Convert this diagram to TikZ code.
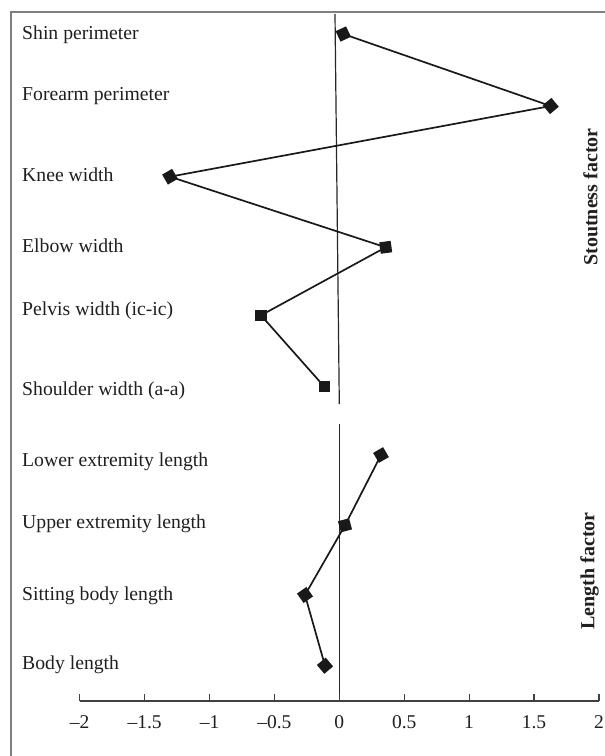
\documentclass[tikz,border=0pt]{standalone}
\usepackage{fontspec}
\setmainfont{Liberation Serif}
\begin{document}
\begin{tikzpicture}[x=1pt,y=-1pt,
  lbl/.style={anchor=base west,inner sep=0pt,font=\fontsize{19.7}{22}\selectfont,text=black!88},
  ticklbl/.style={anchor=base,inner sep=0pt,font=\fontsize{19.5}{22}\selectfont,text=black!88},
  factor/.style={rotate=90,inner sep=0pt,font=\fontsize{20}{22}\selectfont\bfseries,text=black!88},
  marker/.style={fill=black!90,draw=none,minimum size=11.5pt,inner sep=0pt,rectangle},
  conn/.style={line width=1.7pt,draw=black!90},
  zero/.style={line width=1.2pt,draw=black!85},
  frameline/.style={line width=1.4pt,draw=black!50}]
\useasboundingbox (0,0) rectangle (605,756);
% frame
\coordinate (fl) at (11,756);
\coordinate (ft) at (11,12);
\coordinate (fr) at (605,12);
\draw[frameline] (fl) -- (ft) -- (fr);
% zero lines
\coordinate (z1) at (335,14);
\coordinate (z2) at (339.3,404);
\coordinate (z3) at (339.3,424);
\coordinate (z4) at (339.3,701);
\draw[zero] (z1) -- (z2);
\draw[zero] (z3) -- (z4);
% axis
\coordinate (a0) at (80,701);
\coordinate (a1) at (599,701);
\draw[line width=1.3pt,draw=black!75] (a0) -- (a1);
\foreach \v/\t [count=\i] in {-2/–2,-1.5/–1.5,-1/–1,-0.5/–0.5,0/0,0.5/0.5,1/1,1.5/1.5,2/2}{
  \coordinate (tk\i) at ({339.3+129.8*\v},701);
  \draw[line width=1.2pt,draw=black!75] (tk\i) -- ++(0,-7);
  \node[ticklbl] (tl\i) at ({339.3+129.8*\v},728.3) {\t};
}
% labels
\node[lbl] (l1) at (22,39.3) {Shin perimeter};
\node[lbl] (l2) at (22,100.7) {Forearm perimeter};
\node[lbl] (l3) at (22,181.7) {Knee width};
\node[lbl] (l4) at (22,252.7) {Elbow width};
\node[lbl] (l5) at (22,315) {Pelvis width (ic-ic)};
\node[lbl] (l6) at (22,395) {Shoulder width (a-a)};
\node[lbl] (l7) at (22,466.7) {Lower extremity length};
\node[lbl] (l8) at (22,528.3) {Upper extremity length};
\node[lbl] (l9) at (22,600) {Sitting body length};
\node[lbl] (l10) at (22,669.3) {Body length};
% factor labels
\node[factor] (sf) at (590.5,197) {Stoutness factor};
\node[factor] (lf) at (589.5,571) {Length factor};
% markers
\node[marker,rotate=25] (m1) at (343.3,34) {};
\node[marker,rotate=40] (m2) at (550.7,106) {};
\node[marker,rotate=30] (m3) at (170,176.7) {};
\node[marker,rotate=8] (m4) at (385.7,247.3) {};
\node[marker] (m5) at (261,315.3) {};
\node[marker] (m6) at (324.3,386.7) {};
\node[marker,rotate=30] (m7) at (381,455) {};
\node[marker,rotate=15] (m8) at (345,525.3) {};
\node[marker,rotate=35] (m9) at (305,595) {};
\node[marker,rotate=40] (m10) at (325,665.7) {};
% connectors
\draw[conn] (m1.center) -- (m2.center) -- (m3.center) -- (m4.center) -- (m5.center) -- (m6.center);
\draw[conn] (m7.center) -- (m8.center) -- (m9.center) -- (m10.center);
\end{tikzpicture}
\end{document}
